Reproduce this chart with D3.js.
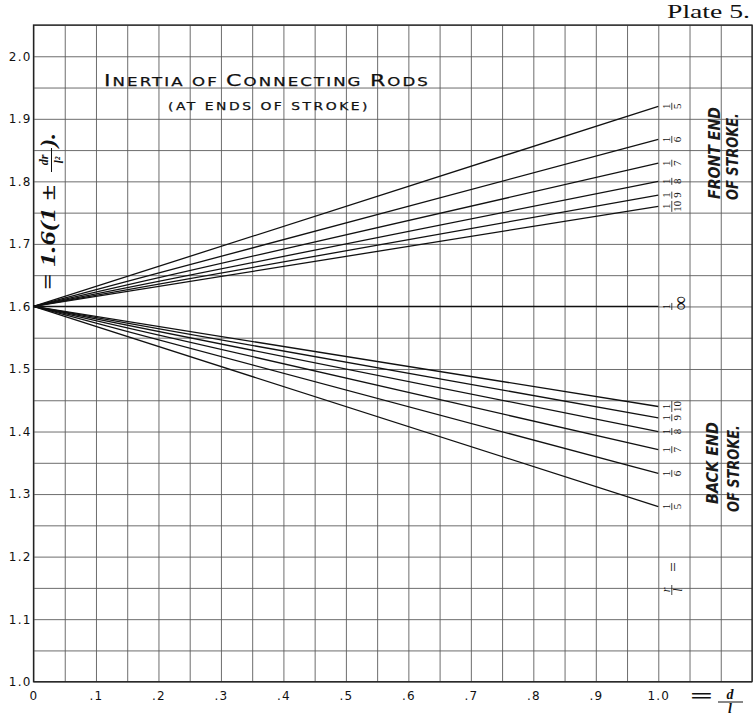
<!DOCTYPE html>
<html lang="en">
  <head>
    <meta charset="UTF-8" />
    <title>inertia-of-connecting-rods</title>
    <style>
      body {
        margin: 0;
        background: #fff;
      }
      svg {
        display: block;
      }
      .grid line {
        stroke: #5c5c5c;
        stroke-width: 0.9;
      }
      .frame {
        fill: none;
        stroke: #222;
        stroke-width: 1.3;
      }
      .tick-label text {
        font-family: "DejaVu Sans", sans-serif;
        font-size: 12px;
        letter-spacing: 1.2px;
        fill: #111;
      }
      .rod {
        fill: none;
        stroke: #111;
        stroke-width: 1.3;
      }
      .frac {
        font-family: "Liberation Serif", "DejaVu Serif", serif;
        font-size: 11px;
        fill: #111;
      }
      .stroke-label {
        font-family: "Liberation Sans Narrow", "DejaVu Sans Condensed", "Liberation Sans", sans-serif;
        font-style: italic;
        font-weight: bold;
        font-size: 15px;
        fill: #1a1a1a;
      }
      .title {
        font-family: "DejaVu Sans", sans-serif;
        fill: #111;
        stroke: #111;
        stroke-width: 0.25;
      }
      .formula {
        font-family: "Liberation Serif", "DejaVu Serif", serif;
        font-style: italic;
        font-weight: bold;
        fill: #111;
      }
    </style>
  </head>
  <body>
    <script src="https://cdn.jsdelivr.net/npm/d3@7"></script>
    <script>
      // tick positions and labels
      const xTicks = [0, 0.1, 0.2, 0.3, 0.4, 0.5, 0.6, 0.7, 0.8, 0.9, 1.0];
      const xTickLabels = ["0", ".1", ".2", ".3", ".4", ".5", ".6", ".7", ".8", ".9", "1.0"];
      const yTicks = [1.0, 1.1, 1.2, 1.3, 1.4, 1.5, 1.6, 1.7, 1.8, 1.9, 2.0];
      const yTickLabels = ["1.0", "1.1", "1.2", "1.3", "1.4", "1.5", "1.6", "1.7", "1.8", "1.9", "2.0"];

      // r/l denominators and the value each line reaches at d/l = 1.0
      const ratioLabels = ["5", "6", "7", "8", "9", "10"];
      const frontEnd = [1.92, 1.867, 1.829, 1.8, 1.778, 1.76];
      const backEnd = [1.28, 1.333, 1.371, 1.4, 1.422, 1.44];
      const startValue = 1.6;
      const endRatio = 1.0;

      const width = 755;
      const height = 717;

      const x = d3.scaleLinear().domain([0, 1.15]).range([33.5, 752]);
      const y = d3.scaleLinear().domain([1.0, 2.05]).range([681.7, 25]);

      const svg = d3.select("body").append("svg").attr("width", width).attr("height", height);

      // grid every 0.05
      const gridX = d3.range(0, 1.151, 0.05);
      const gridY = d3.range(1.0, 2.051, 0.05);

      svg
        .append("g")
        .attr("class", "grid")
        .attr("transform", `translate(0,${y(1.0)})`)
        .call(d3.axisBottom(x).tickValues(gridX).tickSize(-(y(1.0) - y(2.05))).tickFormat(""))
        .call(g => g.select(".domain").remove());

      svg
        .append("g")
        .attr("class", "grid")
        .attr("transform", `translate(${x(0)},0)`)
        .call(d3.axisLeft(y).tickValues(gridY).tickSize(-(x(1.15) - x(0))).tickFormat(""))
        .call(g => g.select(".domain").remove());

      svg
        .append("rect")
        .attr("class", "frame")
        .attr("x", x(0))
        .attr("y", y(2.05))
        .attr("width", x(1.15) - x(0))
        .attr("height", y(1.0) - y(2.05));

      // tick labels
      svg
        .append("g")
        .attr("class", "tick-label")
        .attr("transform", `translate(${x(0)},0)`)
        .call(d3.axisLeft(y).tickValues(yTicks).tickSize(0).tickPadding(2).tickFormat((d, i) => yTickLabels[i]))
        .call(g => g.select(".domain").remove());

      svg
        .append("g")
        .attr("class", "tick-label")
        .attr("transform", `translate(0,${y(1.0)})`)
        .call(d3.axisBottom(x).tickValues(xTicks).tickSize(0).tickPadding(10).tickFormat((d, i) => xTickLabels[i]))
        .call(g => g.select(".domain").remove());

      // rod lines
      const line = d3.line().x(d => x(d[0])).y(d => y(d[1]));
      const ends = frontEnd.concat(backEnd, [startValue]);

      svg
        .append("g")
        .selectAll("path")
        .data(ends)
        .enter()
        .append("path")
        .attr("class", "rod")
        .attr("d", v => line([[0, startValue], [endRatio, v]]));

      // fraction labels, rotated to read upwards
      const labelX = x(endRatio) + 13.5;

      function fraction(num, den, py, denSize) {
        const g = svg.append("g").attr("transform", `translate(${labelX},${py}) rotate(-90)`);
        const half = den.length > 1 ? 5.5 : 3.5;
        g.append("text").attr("class", "frac").attr("text-anchor", "middle").attr("y", -1.8).text(num);
        g.append("line")
          .attr("x1", -half)
          .attr("x2", half)
          .attr("stroke", "#111")
          .attr("stroke-width", 0.8);
        g.append("text")
          .attr("class", "frac")
          .attr("text-anchor", "middle")
          .attr("y", denSize ? 15 : 9.6)
          .attr("x", denSize ? 3 : 0)
          .style("font-size", denSize ? denSize + "px" : null)
          .text(den);
      }

      ratioLabels.forEach((den, i) => {
        fraction("1", den, y(frontEnd[i]));
        fraction("1", den, y(backEnd[i]));
      });
      fraction("1", "\u221E", y(startValue), 20);

      // r/l =
      const rl = svg.append("g").attr("transform", `translate(${labelX},590) rotate(-90)`);
      rl.append("text").attr("class", "frac").style("font-style", "italic").style("font-size", "12px")
        .attr("text-anchor", "middle").attr("y", -2).text("r");
      rl.append("line").attr("x1", -5).attr("x2", 5).attr("stroke", "#111").attr("stroke-width", 0.8);
      rl.append("text").attr("class", "frac").style("font-style", "italic").style("font-size", "12px")
        .attr("text-anchor", "middle").attr("y", 10).text("l");
      rl.append("text").attr("class", "frac").style("font-size", "17px")
        .attr("text-anchor", "middle").attr("x", 23).attr("y", 7.5).text("=");

      // = d/l beside the x axis
      svg.append("text").attr("class", "formula").style("font-style", "normal").style("font-size", "20px")
        .attr("x", 690).attr("y", 703).attr("textLength", 23).attr("lengthAdjust", "spacingAndGlyphs").text("=");
      svg.append("text").attr("class", "formula").style("font-size", "14px")
        .attr("x", 730).attr("y", 699).attr("text-anchor", "middle").text("d");
      svg.append("line").attr("x1", 718).attr("x2", 743).attr("y1", 702).attr("y2", 702)
        .attr("stroke", "#111").attr("stroke-width", 1);
      svg.append("text").attr("class", "formula").style("font-size", "14px")
        .attr("x", 730).attr("y", 713).attr("text-anchor", "middle").text("l");

      // ordinate formula, rotated
      const fy = svg.append("g").attr("transform", "translate(55,290) rotate(-90)");
      fy.append("text").attr("class", "formula").style("font-size", "20px")
        .attr("textLength", 105).attr("lengthAdjust", "spacingAndGlyphs").text("= 1.6(1 \u00B1");
      fy.append("text").attr("class", "formula").style("font-size", "12px")
        .attr("x", 130).attr("y", -7).attr("text-anchor", "middle").text("dr");
      fy.append("line").attr("x1", 118).attr("x2", 142).attr("y1", -3.5).attr("y2", -3.5)
        .attr("stroke", "#111").attr("stroke-width", 1);
      fy.append("text").attr("class", "formula").style("font-size", "12px")
        .attr("x", 130).attr("y", 8).attr("text-anchor", "middle").text("l\u00B2");
      fy.append("text").attr("class", "formula").style("font-size", "20px")
        .attr("x", 143).attr("textLength", 14).attr("lengthAdjust", "spacingAndGlyphs").text(").");

      // end-of-stroke captions
      function caption(text, px, py, len) {
        svg.append("text")
          .attr("class", "stroke-label")
          .attr("transform", `translate(${px},${py}) rotate(-90)`)
          .attr("textLength", len)
          .attr("lengthAdjust", "spacingAndGlyphs")
          .text(text);
      }
      caption("FRONT END", 720, 199, 92);
      caption("OF STROKE.", 738, 200, 87);
      caption("BACK END", 718, 504, 82);
      caption("OF STROKE.", 739, 512, 87);

      // title, built as small caps: large initials, smaller capitals
      const titleParts = [
        ["I", 16], ["NERTIA OF ", 12], ["C", 16], ["ONNECTING ", 12], ["R", 16], ["ODS", 12]
      ];
      const title = svg.append("text").attr("class", "title")
        .attr("x", 104).attr("y", 86)
        .style("letter-spacing", "1.5px")
        .attr("textLength", 326).attr("lengthAdjust", "spacingAndGlyphs");
      titleParts.forEach(([t, s]) => title.append("tspan").style("font-size", s + "px").text(t));

      svg.append("text").attr("class", "title")
        .attr("x", 168).attr("y", 110)
        .style("font-size", "11px")
        .style("letter-spacing", "2px")
        .attr("textLength", 202).attr("lengthAdjust", "spacingAndGlyphs")
        .text("(AT ENDS OF STROKE)");

      svg.append("text")
        .attr("x", 667).attr("y", 18.3)
        .style("font-family", '"Liberation Serif", "DejaVu Serif", serif')
        .style("font-size", "18px").style("fill", "#111")
        .attr("textLength", 83).attr("lengthAdjust", "spacingAndGlyphs")
        .text("Plate 5.");
    </script>
  </body>
</html>
